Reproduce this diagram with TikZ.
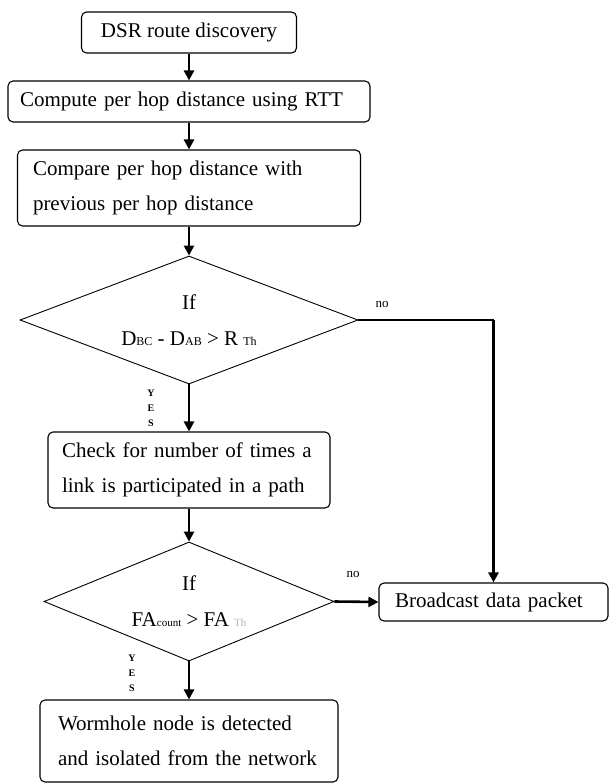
\documentclass[tikz,border=0pt]{standalone}
\usepackage{fontspec}
\setmainfont{Liberation Serif}
\usetikzlibrary{shapes.geometric,arrows.meta}
\begin{document}
\begin{tikzpicture}[x=1pt,y=-1pt,
  box/.style={draw,line width=1.1pt,rounded corners=5pt,inner sep=0pt,font=\fontsize{21}{35}\selectfont},
  dec/.style={draw,diamond,line width=0.9pt,inner sep=0pt,align=center,font=\fontsize{21}{36}\selectfont},
  flow/.style={line width=2.6pt,-{Triangle[length=10pt,width=10pt]}},
  thinlink/.style={line width=1.3pt},
  tiny/.style={font=\fontsize{10}{15}\selectfont\bfseries,inner sep=0pt,align=center},
  nolabel/.style={font=\fontsize{13}{13}\selectfont,inner sep=0pt},
  ]
\useasboundingbox (0,0) rectangle (609,784);
\fill[white] (0,0) rectangle (609,784);

\node[box,minimum width=215pt,minimum height=41pt] (b1) at (189,32.5) {DSR route discovery};
\node[box,minimum width=362pt,minimum height=41pt,text width=338pt,align=left] (b2) at (189,101.5) {Compute per hop distance using RTT};
\node[box,minimum width=343pt,minimum height=76pt,text width=312pt,align=left] (b3) at (189,188) {Compare per hop distance with\\previous per hop distance};
\node[dec,aspect=2.64,minimum width=338pt,minimum height=128pt] (d1) at (189,320) {If\\D{\fontsize{12}{12}\selectfont BC} - D{\fontsize{12}{12}\selectfont AB} > R {\fontsize{12}{12}\selectfont Th}};
\node[box,minimum width=282pt,minimum height=76pt,text width=254pt,align=left] (b4) at (189,470) {Check for number of times a\\link is participated in a path};
\node[dec,aspect=2.44,minimum width=290pt,minimum height=119pt] (d2) at (189,601.5) {If\\FA{\fontsize{11}{11}\selectfont count} > FA {\color{gray!55}\fontsize{11}{11}\selectfont Th}};
\node[box,minimum width=229pt,minimum height=38pt,text width=197pt,align=left] (bc) at (493.5,602) {Broadcast data packet};
\node[box,minimum width=298pt,minimum height=82pt,text width=262pt,align=left] (b5) at (189,741) {\makebox[262pt][s]{Wormhole node is detected}\\and isolated from the network};

\node[nolabel] (no1) at (382,304) {no};
\node[nolabel] (no2) at (353,574) {no};
\node[tiny] (yes1) at (151,408) {Y\\E\\S};
\node[tiny] (yes2) at (132,673) {Y\\E\\S};

\draw[flow] (b1.south) -- (b2.north);
\draw[flow] (b2.south) -- (b3.north);
\draw[flow] (b3.south) -- (d1.north);
\draw[flow] (d1.south) -- (b4.north);
\draw[flow] (b4.south) -- (d2.north);
\draw[flow] (d2.south) -- (b5.north);
\draw[flow] (d2.east) -- (bc.west);
\coordinate (c1) at (d1.east -| bc.north);
\draw[thinlink] (d1.east) -- (c1);
\draw[flow] (c1) -- (bc.north);
\end{tikzpicture}
\end{document}
